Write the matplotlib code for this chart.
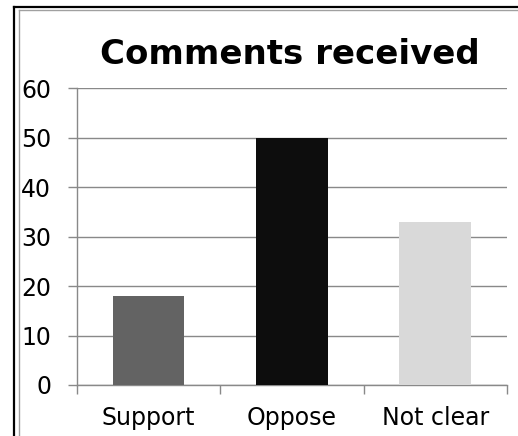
import matplotlib.pyplot as plt
from matplotlib.lines import Line2D

categories = ["Support", "Oppose", "Not clear"]
values = [18, 50, 33]
colors = ["#636363", "#0d0d0d", "#d9d9d9"]
yticks = [0, 10, 20, 30, 40, 50, 60]

grid_color = "#898989"

fig = plt.figure(figsize=(5.18, 4.36), dpi=100)
ax = fig.add_axes([0.1486, 0.117, 0.830, 0.681])

x = range(len(categories))
ax.bar(x, values, width=0.5, color=colors, zorder=3)

ax.set_xlim(-0.5, 2.5)
ax.set_ylim(0, 60)
ax.set_yticks(yticks)
ax.set_xticks([i - 0.5 for i in range(4)], minor=False)
ax.set_xticklabels([])
ax.set_xticks(list(x), minor=True)
ax.set_xticklabels(categories, minor=True, fontsize=17)
ax.tick_params(axis="x", which="major", length=6.5, color=grid_color, width=1.0)
ax.tick_params(axis="x", which="minor", length=0, pad=15)
ax.tick_params(axis="y", length=6.5, color=grid_color, width=1.0, labelsize=17, pad=12)

ax.grid(axis="y", color=grid_color, linewidth=1.0, zorder=0)
for side in ["top", "right"]:
    ax.spines[side].set_visible(False)
for side in ["left", "bottom"]:
    ax.spines[side].set_color(grid_color)
    ax.spines[side].set_linewidth(1.0)

fig.text(0.56, 0.875, "Comments received", ha="center", va="center",
         fontsize=24.5, fontweight="bold")

# chart frame (cropped)
fig.add_artist(Line2D([14 / 518, 14 / 518], [0, 1 - 7 / 436], color="black", lw=1.6))
fig.add_artist(Line2D([14 / 518, 1], [1 - 7 / 436, 1 - 7 / 436], color="black", lw=1.6))
fig.add_artist(Line2D([18.5 / 518, 18.5 / 518], [0, 1 - 10 / 436], color="#a0a0a0", lw=1.0))
fig.add_artist(Line2D([18.5 / 518, 1], [1 - 10 / 436, 1 - 10 / 436], color="#a0a0a0", lw=1.0))

fig.savefig("out.png", dpi=100)
